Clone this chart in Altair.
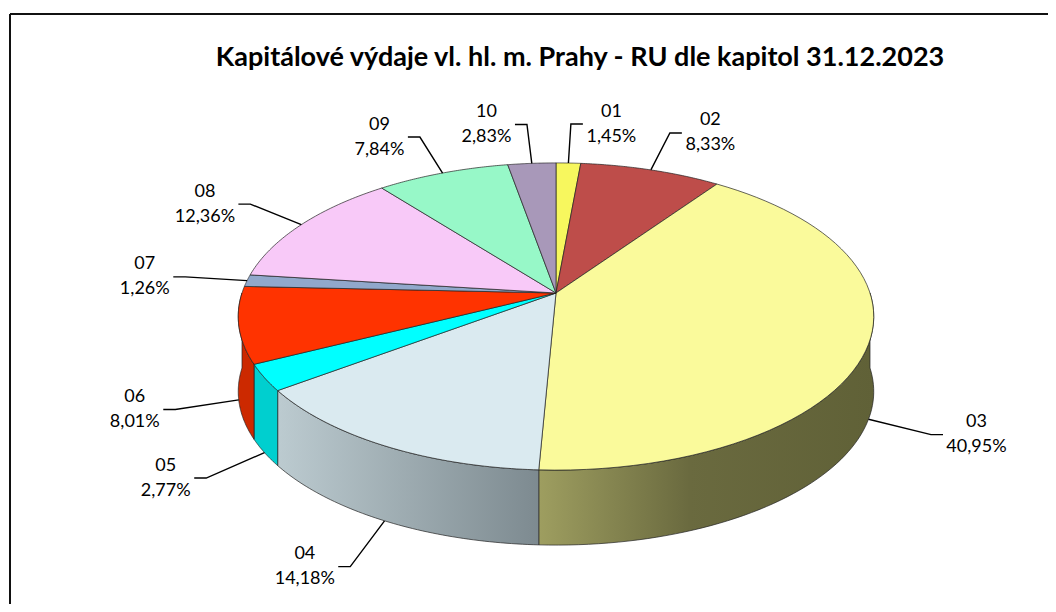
import altair as alt
import pandas as pd

# ---- data ----
categories = ["01", "02", "03", "04", "05", "06", "07", "08", "09", "10"]
shares = [1.45, 8.33, 40.95, 14.18, 2.77, 8.01, 1.26, 12.36, 7.84, 2.83]
title_text = "Kapitálové výdaje vl. hl. m. Prahy - RU dle kapitol 31.12.2023"

# ---- styles ----
top_colors = ["#F7F75E", "#BE4D4A", "#FAFA9B", "#DAEAF0", "#00FFFF",
              "#FF3300", "#91A8CB", "#F8C9F8", "#97F8C8", "#A898B9"]


def hgrad(stops):
    return alt.LinearGradient(
        gradient="linear", x1=0, x2=1, y1=0, y2=0,
        stops=[alt.GradientStop(offset=o, color=c) for o, c in stops])


side_fills = [
    "#B8B840", "#8E3633",
    hgrad([(0, "#9E9E60"), (0.45, "#6A6A3F"), (1, "#606137")]),
    hgrad([(0, "#BCCBD0"), (1, "#7D8A90")]),
    "#00CFCF", "#CC2900", "#6F85A3", "#C9A0C9", "#77C8A0", "#857794",
]

# ---- geometry of the tilted pie (pixels) ----
A, B, E, D = 314, 150, 0.153, 75     # half-width, half-height, perspective, depth
N = 60                               # arc resolution
SX, SY = 1.2, 1.3                    # leader elbow factors
STUB = 12
FONT = "Lato"
FS = 18
LH = 25

df = pd.DataFrame({"cat": categories, "share": shares,
                   "idx": list(range(len(categories)))})

X = alt.X("px:Q", scale=alt.Scale(domain=[-548, 492], nice=False, zero=False), axis=None)
Y = alt.Y("py:Q", scale=alt.Scale(domain=[-285, 311], nice=False, zero=False, reverse=True), axis=None)

DEN = f"(1 + {E}*cos(datum.th))"


def base():
    return (alt.Chart(df)
            .transform_joinaggregate(total="sum(share)")
            .transform_window(cum="sum(share)", sort=[alt.SortField("idx")], frame=[None, 0])
            .transform_calculate(t0="2*PI*(datum.cum - datum.share)/datum.total")
            .transform_calculate(t1="2*PI*datum.cum/datum.total"))


layers = []

# frame of the chart area
one = pd.DataFrame({"a": [0]})
layers.append(alt.Chart(one).mark_rule(color="#111", strokeWidth=2).encode(
    x=alt.value(2), x2=alt.value(1040), y=alt.value(6)))
layers.append(alt.Chart(one).mark_rule(color="#111", strokeWidth=2).encode(
    x=alt.value(2), y=alt.value(6), y2=alt.value(596)))

# side walls (front half only)
for cat, fill in zip(categories, side_fills):
    side = (base()
            .transform_calculate(lo="max(datum.t0, PI/2)")
            .transform_calculate(hi="min(datum.t1, 3*PI/2)")
            .transform_filter(f"datum.lo < datum.hi && datum.cat == '{cat}'")
            .transform_calculate(k=f"sequence(0, {2 * N + 3})")
            .transform_flatten(["k"])
            .transform_calculate(
                f=f"datum.k <= {N} ? datum.k/{N} : (datum.k <= {2 * N + 1} ? ({2 * N + 1} - datum.k)/{N} : 0)")
            .transform_calculate(bot=f"(datum.k > {N} && datum.k <= {2 * N + 1}) ? 1 : 0")
            .transform_calculate(th="datum.lo + (datum.hi - datum.lo)*datum.f")
            .transform_calculate(px=f"{A}*sin(datum.th)/{DEN}")
            .transform_calculate(py=f"-{B}*cos(datum.th)/{DEN} + {D}*datum.bot")
            .mark_line(filled=True, fill=fill, stroke="#222", strokeWidth=0.7,
                       strokeJoin="round", opacity=1)
            .encode(x=X, y=Y, order=alt.Order("k:Q")))
    layers.append(side)

# top faces
top = (base()
       .transform_calculate(k=f"sequence(0, {N + 3})")
       .transform_flatten(["k"])
       .transform_calculate(f=f"clamp((datum.k - 1)/{N}, 0, 1)")
       .transform_calculate(c=f"(datum.k == 0 || datum.k == {N + 2}) ? 0 : 1")
       .transform_calculate(th="datum.t0 + (datum.t1 - datum.t0)*datum.f")
       .transform_calculate(px=f"datum.c*{A}*sin(datum.th)/{DEN}")
       .transform_calculate(py=f"-datum.c*{B}*cos(datum.th)/{DEN}")
       .mark_line(filled=True, stroke="#222", strokeWidth=0.7, strokeJoin="round", opacity=1)
       .encode(x=X, y=Y, order=alt.Order("k:Q"),
               color=alt.Color("cat:N", scale=alt.Scale(domain=categories, range=top_colors),
                               legend=None)))
layers.append(top)


def label_base():
    return (base()
            .transform_calculate(th="(datum.t0 + datum.t1)/2")
            .transform_calculate(ex=f"{A}*sin(datum.th)/{DEN}")
            .transform_calculate(ey=f"-{B}*cos(datum.th)/{DEN}")
            .transform_calculate(fr=f"cos(datum.th) < 0 ? {D} : 0")
            .transform_calculate(sg="sin(datum.th) >= 0 ? 1 : -1"))


leaders = (label_base()
           .transform_calculate(k="sequence(0, 3)")
           .transform_flatten(["k"])
           .transform_calculate(
               px=f"datum.k == 0 ? datum.ex : (datum.k == 1 ? {SX}*datum.ex : {SX}*datum.ex + datum.sg*{STUB})")
           .transform_calculate(py=f"(datum.k == 0 ? datum.ey : {SY}*datum.ey) + datum.fr")
           .mark_line(color="black", strokeWidth=1.4)
           .encode(x=X, y=Y, order=alt.Order("k:Q"), detail="cat:N"))
layers.append(leaders)

labels = (label_base()
          .transform_calculate(pct="replace(format(datum.share, '.2f'), '.', ',') + '%'")
          .transform_calculate(txt="datum.cat + '|' + datum.pct")
          .transform_calculate(px=f"{SX}*datum.ex + datum.sg*({STUB} + 4 + length(datum.pct)*4.9)")
          .transform_calculate(py=f"{SY}*datum.ey + datum.fr")
          .mark_text(font=FONT, fontSize=FS, lineBreak="|", lineHeight=LH, dy=-LH / 2,
                     align="center", baseline="middle", color="black")
          .encode(x=X, y=Y, text="txt:N"))
layers.append(labels)

title = (alt.Chart(pd.DataFrame({"t": [title_text]}))
         .mark_text(font=FONT, fontSize=27, fontWeight="bold", align="center",
                    baseline="middle", color="black")
         .encode(x=alt.value(572), y=alt.value(50), text="t:N"))
layers.append(title)

chart = (alt.layer(*layers)
         .properties(width=1040, height=596, padding=0,
                     autosize=alt.AutoSizeParams(type="none"))
         .configure_view(stroke=None))

chart.save("out.html", embed_options={"renderer": "svg", "actions": False})
